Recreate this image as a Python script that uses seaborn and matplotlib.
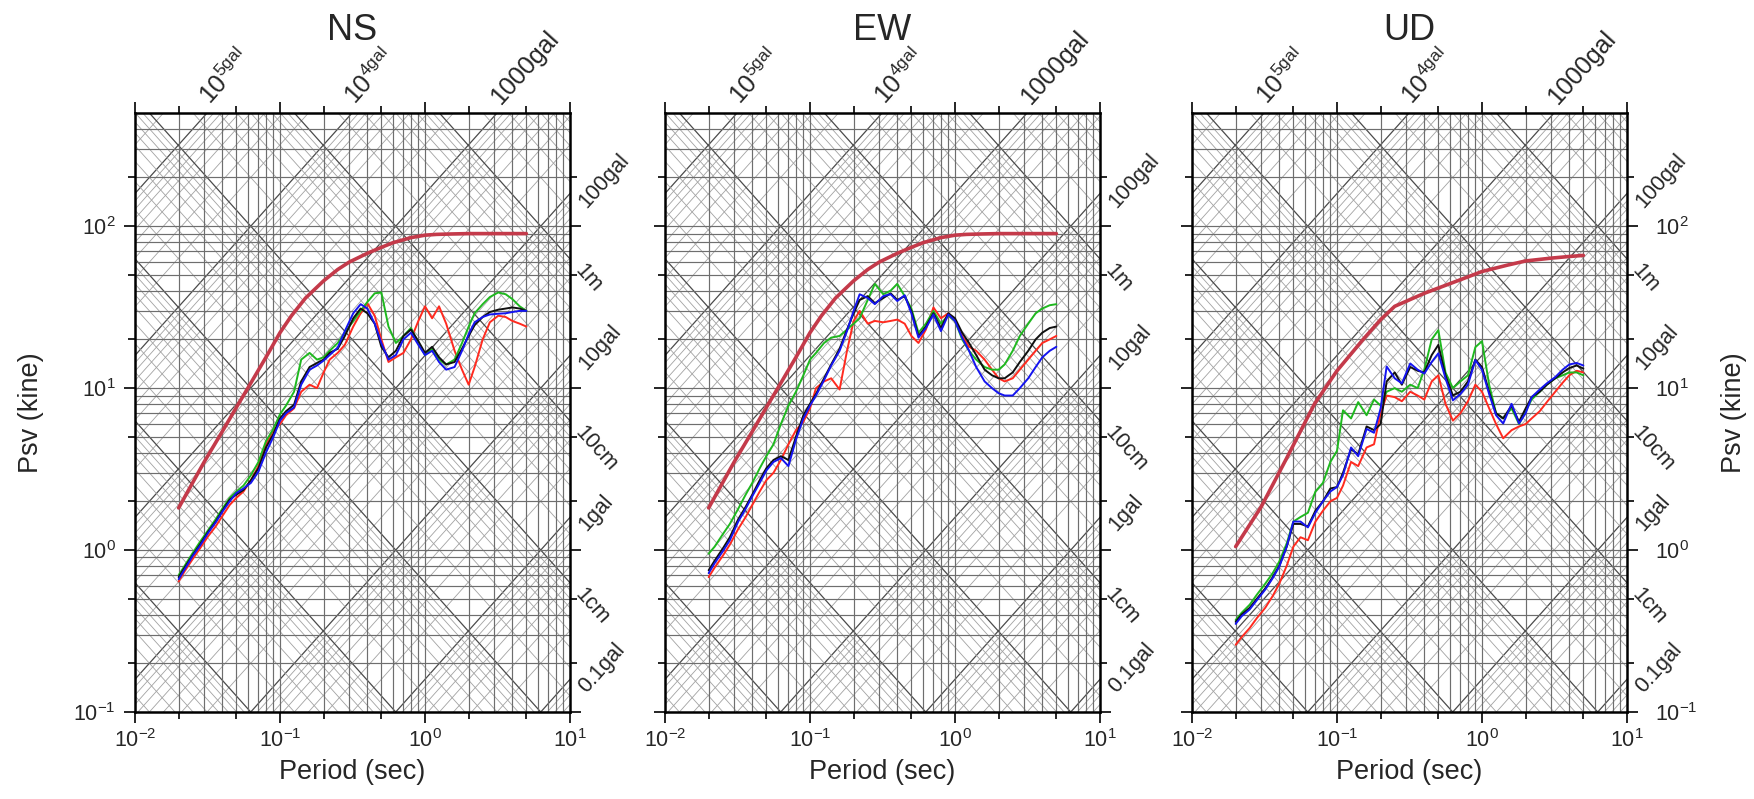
import numpy as np
import pandas as pd
import matplotlib
matplotlib.use("Agg")
import matplotlib.pyplot as plt
from matplotlib.ticker import FixedLocator, NullFormatter, LogFormatterSciNotation
import seaborn as sns

# ---- data -----------------------------------------------------------------
periods = [0.02, 0.022, 0.025, 0.028, 0.032, 0.036, 0.04, 0.045, 0.05, 0.056,
           0.063, 0.071, 0.08, 0.09, 0.1, 0.11, 0.125, 0.14, 0.16, 0.18,
           0.2, 0.22, 0.25, 0.28, 0.32, 0.36, 0.4, 0.45, 0.5, 0.56,
           0.63, 0.71, 0.8, 0.9, 1.0, 1.12, 1.25, 1.4, 1.6, 1.8,
           2.0, 2.2, 2.5, 2.8, 3.2, 3.6, 4.0, 4.5, 5.0]

design_T_h = [0.02, 0.03, 0.04, 0.05, 0.06, 0.08, 0.1, 0.12, 0.15, 0.2, 0.25,
              0.3, 0.4, 0.5, 0.6, 0.8, 1.0, 1.2, 1.5, 2.0, 3.0, 4.0, 5.0]
design_h = [1.82, 3.5, 5.4, 7.6, 10.0, 15.5, 22.0, 28.0, 36.0, 46.0, 54.0,
            60.0, 68.0, 74.0, 79.0, 85.0, 88.0, 89.0, 89.5, 90.0, 90.0, 90.0, 90.0]
design_T_v = [0.02, 0.03, 0.045, 0.07, 0.1, 0.15, 0.2, 0.25, 0.4, 0.7, 1.0,
              1.5, 2.0, 3.0, 4.0, 5.0]
design_v = [1.05, 1.85, 3.7, 8.0, 12.8, 19.8, 26.5, 32.0, 38.5, 46.5, 52.5,
            57.5, 61.0, 63.5, 65.0, 66.0]

ns_black = [0.68, 0.78, 0.93, 1.08, 1.3, 1.5, 1.75, 2.05, 2.2, 2.35, 2.7, 3.2, 4.3, 5.2, 6.5, 7.2, 7.9,
            11.0, 13.5, 14.3, 15.0, 16.5, 17.5, 21.0, 27.0, 31.0, 29.0, 25.0, 18.0, 15.5, 17.0, 21.0,
            23.0, 19.5, 16.5, 18.0, 15.5, 14.0, 14.5, 17.5, 21.0, 24.5, 27.5, 29.5, 30.5, 31.0, 31.5,
            31.0, 30.0]
ns_blue = [0.66, 0.76, 0.92, 1.06, 1.28, 1.48, 1.72, 2.0, 2.25, 2.4, 2.6, 3.05, 4.0, 5.0, 6.3, 7.0, 7.6,
           10.5, 13.0, 13.8, 14.8, 16.0, 17.8, 22.5, 29.0, 33.0, 31.0, 25.0, 19.0, 15.0, 16.0, 20.0,
           22.0, 18.5, 16.0, 17.0, 14.5, 13.0, 13.5, 17.0, 21.5, 25.5, 27.5, 28.5, 28.8, 29.0, 29.5,
           30.0, 30.0]
ns_green = [0.70, 0.80, 0.96, 1.12, 1.33, 1.55, 1.80, 2.1, 2.3, 2.5, 2.9, 3.5, 4.7, 5.6, 6.9, 7.8, 9.5,
            15.0, 16.5, 15.0, 15.5, 17.0, 19.0, 22.0, 26.0, 30.0, 34.0, 38.5, 39.0, 24.0, 19.0, 21.0,
            23.5, 19.0, 16.0, 17.5, 15.0, 14.0, 15.0, 19.0, 24.0, 29.0, 33.0, 36.5, 39.0, 38.0, 35.5,
            32.0, 30.0]
ns_red = [0.64, 0.74, 0.88, 1.02, 1.22, 1.40, 1.62, 1.9, 2.1, 2.3, 2.7, 3.3, 4.5, 5.5, 6.0, 6.8, 7.5,
          9.5, 10.5, 10.0, 12.5, 15.0, 16.5, 18.5, 24.0, 29.0, 33.5, 28.0, 20.0, 14.5, 15.5, 16.5,
          20.0, 26.0, 32.0, 27.0, 32.0, 25.0, 17.0, 13.0, 10.5, 13.5, 20.0, 25.5, 28.0, 27.5, 26.0,
          25.0, 24.0]

ew_black = [0.75, 0.86, 1.02, 1.2, 1.55, 1.85, 2.2, 2.7, 3.2, 3.6, 3.8, 3.6, 5.0, 6.8, 8.0, 9.2, 11.5,
            14.0, 17.5, 23.0, 29.0, 35.0, 37.0, 33.5, 36.0, 38.5, 35.0, 37.0, 30.0, 21.0, 24.0, 29.0,
            23.5, 29.0, 27.0, 22.0, 19.0, 16.0, 13.0, 12.0, 11.5, 11.5, 12.5, 14.5, 17.0, 20.0, 22.0,
            23.5, 24.0]
ew_blue = [0.72, 0.83, 0.98, 1.15, 1.5, 1.8, 2.15, 2.6, 3.1, 3.5, 3.7, 3.3, 4.8, 6.5, 7.8, 9.0, 11.2,
           13.8, 17.0, 22.5, 30.0, 38.0, 36.0, 33.0, 37.0, 38.0, 34.5, 37.5, 29.0, 20.5, 23.5, 28.5,
           22.5, 28.5, 26.0, 20.5, 17.0, 13.5, 11.0, 10.0, 9.3, 9.0, 9.0, 10.0, 11.5, 13.5, 15.5,
           17.0, 18.0]
ew_green = [0.95, 1.05, 1.25, 1.45, 1.8, 2.2, 2.6, 3.2, 3.8, 4.5, 6.0, 7.8, 9.5, 12.0, 15.0, 16.5, 19.0,
            20.5, 21.0, 23.0, 25.0, 27.0, 35.0, 44.0, 38.0, 40.0, 44.0, 37.0, 31.0, 22.0, 25.0, 30.0,
            25.0, 28.0, 26.0, 20.0, 17.0, 15.0, 13.5, 13.0, 13.0, 14.0, 17.0, 21.0, 25.0, 29.0, 31.0,
            32.5, 33.0]
ew_red = [0.68, 0.78, 0.92, 1.08, 1.35, 1.6, 1.9, 2.3, 2.7, 3.0, 3.6, 4.5, 5.5, 6.2, 7.5, 10.0, 11.0,
          11.5, 9.8, 17.0, 26.0, 30.0, 25.0, 26.0, 25.5, 26.0, 26.5, 25.0, 21.0, 19.0, 23.0, 31.5,
          27.0, 29.0, 26.0, 21.0, 18.0, 17.0, 15.0, 13.0, 11.5, 11.0, 11.5, 13.0, 15.0, 17.0, 19.0,
          20.0, 21.0]

ud_black = [0.36, 0.40, 0.44, 0.50, 0.58, 0.68, 0.80, 1.05, 1.45, 1.45, 1.4, 1.75, 2.0, 2.4, 2.45, 3.0,
            4.2, 3.9, 5.8, 5.5, 6.0, 11.0, 12.5, 10.5, 13.5, 12.8, 12.5, 16.0, 18.5, 12.0, 9.0, 9.5,
            11.0, 15.0, 13.5, 9.5, 7.0, 6.5, 7.8, 6.2, 7.5, 8.8, 9.5, 10.5, 11.5, 12.5, 13.3, 13.8,
            13.2]
ud_blue = [0.35, 0.39, 0.43, 0.49, 0.57, 0.67, 0.79, 1.05, 1.5, 1.5, 1.38, 1.7, 2.0, 2.3, 2.45, 2.9,
           4.3, 3.8, 5.6, 5.3, 7.5, 13.6, 11.5, 10.7, 14.2, 13.0, 12.3, 14.5, 16.4, 11.5, 8.4, 9.2,
           10.5, 14.9, 13.0, 9.2, 6.8, 6.05, 8.0, 6.05, 7.0, 8.8, 9.8, 10.7, 11.7, 13.0, 14.0, 14.3,
           13.8]
ud_green = [0.37, 0.41, 0.46, 0.53, 0.62, 0.72, 0.85, 1.1, 1.5, 1.6, 1.7, 2.3, 2.6, 3.5, 4.1, 7.3,
            6.5, 8.2, 6.8, 8.5, 7.8, 9.5, 10.0, 9.5, 10.5, 10.0, 13.0, 20.0, 22.8, 12.5, 10.0, 11.0,
            12.0, 17.9, 19.5, 10.5, 7.0, 6.5, 7.5, 6.0, 7.2, 8.5, 9.5, 10.5, 11.5, 12.0, 12.5, 12.5,
            12.0]
ud_red = [0.26, 0.29, 0.33, 0.38, 0.44, 0.52, 0.62, 0.8, 1.05, 1.2, 1.15, 1.5, 1.75, 2.0, 2.1, 2.5,
          3.5, 3.3, 4.3, 4.5, 7.0, 9.0, 8.8, 8.3, 9.5, 9.0, 8.5, 11.0, 12.0, 8.0, 6.3, 7.0, 8.3,
          10.5, 9.5, 7.5, 6.0, 4.9, 5.5, 5.8, 6.0, 6.5, 7.2, 8.2, 9.5, 10.8, 12.0, 12.8, 12.5]

panel_titles = ["NS", "EW", "UD"]
panel_records = {
    "NS": {"red": ns_red, "green": ns_green, "black": ns_black, "blue": ns_blue},
    "EW": {"red": ew_red, "green": ew_green, "black": ew_black, "blue": ew_blue},
    "UD": {"red": ud_red, "green": ud_green, "black": ud_black, "blue": ud_blue},
}
panel_design = {"NS": (design_T_h, design_h), "EW": (design_T_h, design_h),
                "UD": (design_T_v, design_v)}

top_acc = [1e5, 1e4, 1e3]
top_acc_text = [r"$\mathdefault{10^{5gal}}$", r"$\mathdefault{10^{4gal}}$", "1000gal"]
side_lines = [("acc", 100, "100gal"), ("disp", 100, "1m"), ("acc", 10, "10gal"),
              ("disp", 10, "10cm"), ("acc", 1, "1gal"), ("disp", 1, "1cm"),
              ("acc", 0.1, "0.1gal")]

# ---- style ----------------------------------------------------------------
sns.set_theme(style="white")
plt.rcParams["font.family"] = ["Liberation Sans", "DejaVu Sans"]
plt.rcParams["mathtext.fontset"] = "custom"
plt.rcParams["mathtext.rm"] = "Liberation Sans"
plt.rcParams["mathtext.it"] = "Liberation Sans"
plt.rcParams["axes.unicode_minus"] = False

line_colors = {"red": "#ff2a1f", "green": "#1fb81f", "black": "#101010", "blue": "#1414f0"}
design_color = "#c43a4a"

XMIN, XMAX, YMIN, YMAX = 0.01, 10.0, 0.1, 500.0
TWO_PI = 2 * np.pi

fig = plt.figure(figsize=(17.54, 7.99), dpi=100)
W, H = 1754.0, 799.0
ax_w, ax_h = 435 / W, 599 / H
ax_b = (H - 712) / H
lefts = [135 / W, 665 / W, 1192 / W]

t_span = np.array([1e-3, 1e2])
grid_hv = "#6e6e6e"
diag_minor = "#a2a2a2"
diag_major = "#4a4a4a"
slope_deg = np.degrees(np.arctan((599 / np.log10(YMAX / YMIN)) / (435 / 3.0)))

for i, name in enumerate(panel_titles):
    ax = fig.add_axes([lefts[i], ax_b, ax_w, ax_h])
    ax.set_xscale("log")
    ax.set_yscale("log")
    ax.set_xlim(XMIN, XMAX)
    ax.set_ylim(YMIN, YMAX)

    # tripartite background: diagonal acceleration / displacement lines
    for k in range(-4, 8):
        for m in range(1, 10):
            a = m * 10.0 ** k
            major = m == 1
            ax.plot(t_span, a * t_span / TWO_PI, color=diag_major if major else diag_minor,
                    lw=0.9 if major else 0.6, zorder=1)
    for k in range(-6, 5):
        for m in range(1, 10):
            d = m * 10.0 ** k
            major = m == 1
            ax.plot(t_span, TWO_PI * d / t_span, color=diag_major if major else diag_minor,
                    lw=0.9 if major else 0.6, zorder=1)
    # period / velocity grid
    for k in range(-2, 1):
        for m in range(1, 10):
            ax.axvline(m * 10.0 ** k, color=grid_hv, lw=0.85, zorder=2)
    for k in range(-1, 3):
        for m in range(1, 10):
            v = m * 10.0 ** k
            if v < YMAX:
                ax.axhline(v, color=grid_hv, lw=0.85, zorder=2)

    # spectra
    recs = panel_records[name]
    long = pd.DataFrame({
        "T": np.concatenate([periods] * 4),
        "Sv": np.concatenate([recs["red"], recs["green"], recs["black"], recs["blue"]]),
        "series": np.repeat(["red", "green", "black", "blue"], len(periods)),
    })
    sns.lineplot(data=long, x="T", y="Sv", hue="series", hue_order=["red", "green", "black", "blue"],
                 palette=line_colors, estimator=None, sort=False, lw=1.4, legend=False, ax=ax,
                 zorder=4)
    dT, dS = panel_design[name]
    sns.lineplot(x=dT, y=dS, color=design_color, lw=2.6, estimator=None, sort=False, ax=ax,
                 zorder=5)

    # frame and ticks
    for sp in ax.spines.values():
        sp.set_visible(True)
        sp.set_color("black")
        sp.set_linewidth(1.8)
        sp.set_zorder(6)
    ax.xaxis.set_major_locator(FixedLocator([0.01, 0.1, 1, 10]))
    ax.xaxis.set_minor_locator(FixedLocator([0.02, 0.05, 0.2, 0.5, 2, 5]))
    ax.yaxis.set_major_locator(FixedLocator([0.1, 1, 10, 100]))
    ax.yaxis.set_minor_locator(FixedLocator([0.2, 0.5, 2, 5, 20, 50, 200]))
    ax.xaxis.set_major_formatter(LogFormatterSciNotation())
    ax.yaxis.set_major_formatter(LogFormatterSciNotation())
    ax.xaxis.set_minor_formatter(NullFormatter())
    ax.yaxis.set_minor_formatter(NullFormatter())
    ax.tick_params(which="both", direction="out", top=True, right=True, bottom=True, left=True,
                   color="black", width=1.2, labelsize=15.5)
    ax.tick_params(which="major", length=8, pad=4)
    ax.tick_params(which="minor", length=5)
    ax.tick_params(axis="y", labelleft=(i == 0), labelright=(i == 2),
                   pad=(6 if i == 0 else 12))
    ax.set_xlabel("")
    ax.set_ylabel("")

    ax.text(0.5, 1 + (113 - 30) / 599, name, transform=ax.transAxes, ha="center", va="center",
            fontsize=26)
    ax.text(0.5, -0.100, "Period (sec)", transform=ax.transAxes, ha="center", va="center",
            fontsize=19.5)
    if i == 0:
        ax.text(-0.239, 0.5, "Psv (kine)", transform=ax.transAxes, ha="center", va="center",
                rotation=90, fontsize=19.5)
    if i == 2:
        ax.text(1.246, 0.5, "Psv (kine)", transform=ax.transAxes, ha="center", va="center",
                rotation=90, fontsize=19.5)

    # acceleration labels along the top edge
    for a, txt in zip(top_acc, top_acc_text):
        t_hit = TWO_PI * YMAX / a
        ax.annotate(txt, xy=(t_hit, YMAX), xytext=(5, 3), textcoords="offset points",
                    rotation=slope_deg, rotation_mode="anchor", ha="left", va="bottom",
                    fontsize=18, annotation_clip=False)
    # acceleration / displacement labels along the right edge
    for kind, val, txt in side_lines:
        if kind == "acc":
            sv = val * XMAX / TWO_PI
            rot = slope_deg
            off = (9, -8)
        else:
            sv = TWO_PI * val / XMAX
            rot = -slope_deg
            off = (6, -6)
        ax.annotate(txt, xy=(XMAX, sv), xytext=off, textcoords="offset points",
                    rotation=rot, rotation_mode="anchor", ha="left", va="center",
                    fontsize=15.5, annotation_clip=False)

fig.savefig("out.png", dpi=100, facecolor="white")
